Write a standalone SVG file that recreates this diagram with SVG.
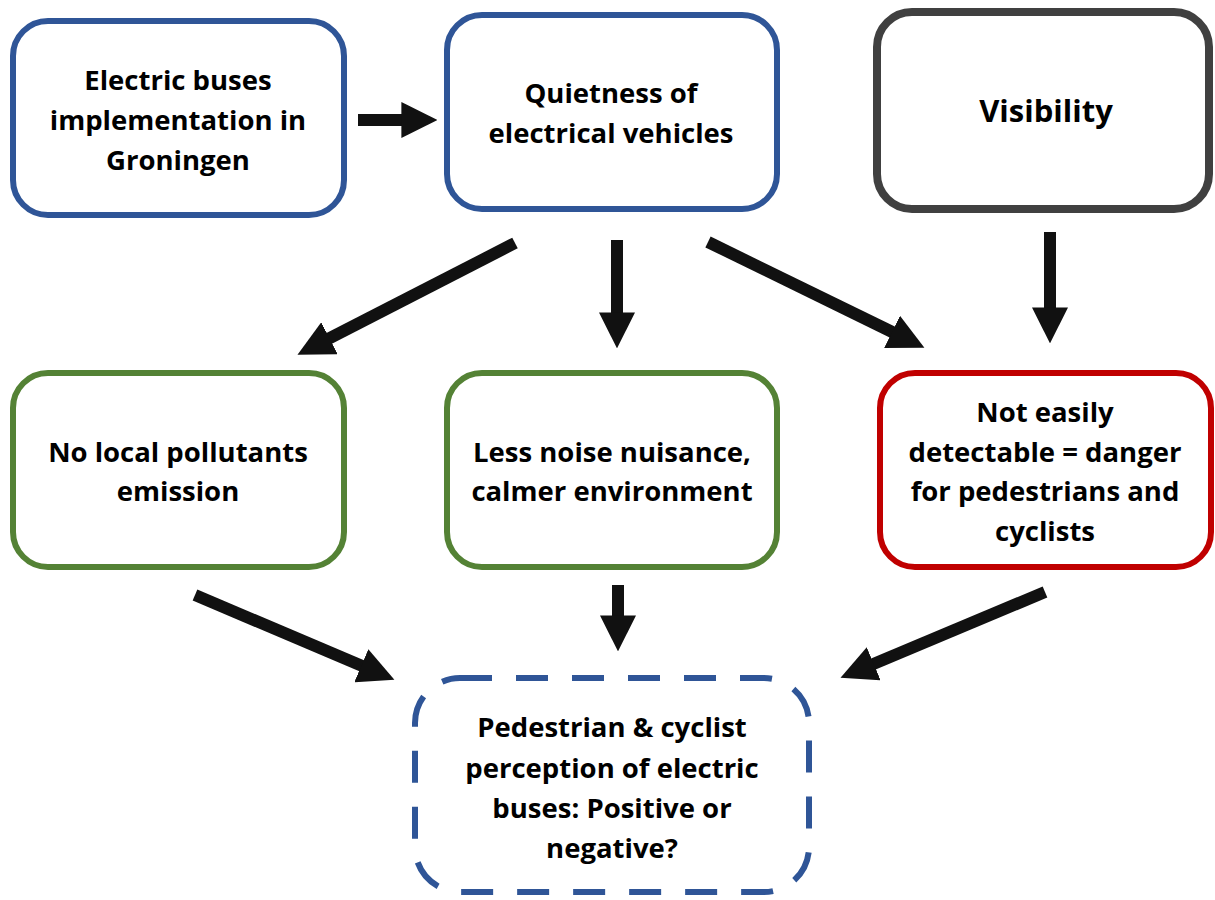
<svg xmlns="http://www.w3.org/2000/svg" width="1215" height="900" viewBox="0 0 1215 900">
<style>
.box{fill:#fff;stroke-width:6}
.blue{stroke:#2F5597}
.green{stroke:#548235}
.red{stroke:#C00000}
.gray{stroke:#404040;stroke-width:8}
.dash{stroke-dasharray:32 24}
text{font-family:"Open Sans",Lato,"Liberation Sans",sans-serif;font-weight:bold;font-size:27.5px;fill:#000;text-anchor:middle}
.big{font-size:31px}
.conn line{stroke:#111;stroke-width:12;marker-end:url(#ah)}
</style>
<defs>
<marker id="ah" viewBox="0 0 3 3" refX="0.3" refY="1.5" markerWidth="3" markerHeight="3" orient="auto">
<path d="M0,0 L3,1.5 L0,3 z" fill="#111"/>
</marker>
</defs>
<rect width="1215" height="900" fill="#fff"/>
<g id="n1"><rect class="box blue" x="13" y="21" width="331" height="194" rx="35"/>
<text x="178" y="90">Electric buses</text><text x="178" y="130">implementation in</text><text x="178" y="170">Groningen</text></g>
<g id="n2"><rect class="box blue" x="447" y="15" width="330" height="194" rx="35"/>
<text x="611" y="103">Quietness of</text><text x="611" y="143">electrical vehicles</text></g>
<g id="n3"><rect class="box gray" x="877" y="12" width="332" height="197" rx="35"/>
<text class="big" x="1046" y="122">Visibility</text></g>
<g id="n4"><rect class="box green" x="13" y="373" width="331" height="194" rx="35"/>
<text x="178" y="462">No local pollutants</text><text x="178" y="501">emission</text></g>
<g id="n5"><rect class="box green" x="447" y="373" width="330" height="194" rx="35"/>
<text x="612" y="462">Less noise nuisance,</text><text x="612" y="501">calmer environment</text></g>
<g id="n6"><rect class="box red" x="880" y="373" width="331" height="194" rx="35"/>
<text x="1045" y="422">Not easily</text><text x="1045" y="462">detectable = danger</text><text x="1045" y="501">for pedestrians and</text><text x="1045" y="541">cyclists</text></g>
<g id="n7"><rect class="box blue dash" x="415" y="678" width="394" height="214" rx="45"/>
<text x="612" y="737">Pedestrian &amp; cyclist</text><text x="612" y="778">perception of electric</text><text x="612" y="818">buses: Positive or</text><text x="612" y="858">negative?</text></g>
<g id="connectors" class="conn">
<line x1="358" y1="120" x2="405" y2="120"/>
<line x1="515" y1="243" x2="326.3" y2="339.9"/>
<line x1="617" y1="240" x2="617" y2="316"/>
<line x1="708" y1="242" x2="895.3" y2="333.5"/>
<line x1="1050" y1="232" x2="1050" y2="311"/>
<line x1="195" y1="595" x2="364.6" y2="667.1"/>
<line x1="618" y1="585" x2="618" y2="619"/>
<line x1="1045" y1="592" x2="870.4" y2="665.2"/>
</g>
</svg>
